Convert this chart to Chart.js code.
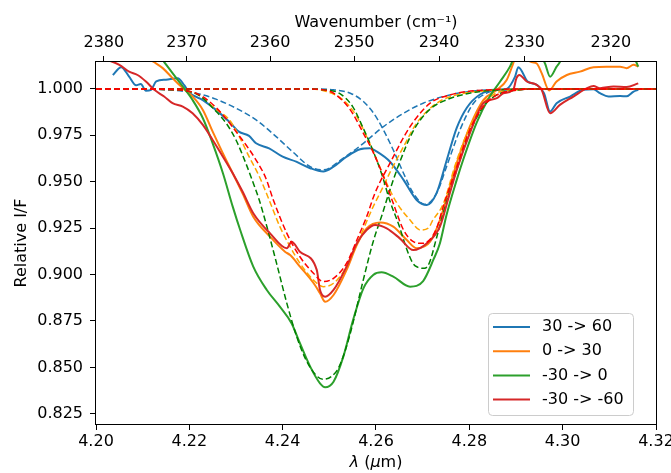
<!DOCTYPE html>
<html>
<head>
<meta charset="utf-8">
<script src="https://cdn.jsdelivr.net/npm/chart.js@4.4.0/dist/chart.umd.min.js"></script>
<style>
  html, body { margin: 0; padding: 0; background: #fff; }
</style>
</head>
<body>
<canvas id="myChart" width="671" height="473"></canvas>
<script>
// tick labels
const lamTicks = [4.20, 4.22, 4.24, 4.26, 4.28, 4.30, 4.32];
const waveTicks = [2380, 2370, 2360, 2350, 2340, 2330, 2320];
const yTicks = [0.825, 0.850, 0.875, 0.900, 0.925, 0.950, 0.975, 1.000];
const seriesLabels = ['30 -> 60', '0 -> 30', '-30 -> 0', '-30 -> -60'];

// observed spectra (solid)
const blueLam = [4.2036,4.2054,4.2071,4.2086,4.2096,4.2107,4.2118,4.2129,4.2150,4.2175,4.2189,4.2200,4.2229,4.2257,4.2285,4.2306,4.2328,4.2343,4.2371,4.2400,4.2429,4.2459,4.2487,4.2509,4.2537,4.2566,4.2587,4.2602,4.2630,4.2659,4.2687,4.2709,4.2730,4.2752,4.2773,4.2795,4.2823,4.2859,4.2880,4.2898,4.2905,4.2925,4.2946,4.2960,4.2973,4.2987,4.3016,4.3044,4.3066,4.3080,4.3098,4.3123,4.3137,4.3152,4.3162];
const blueVal = [1.0075,1.0117,1.0066,1.0020,1.0027,0.9990,0.9995,1.0040,1.0050,1.0058,1.0020,0.9980,0.9940,0.9887,0.9824,0.9770,0.9747,0.9707,0.9680,0.9635,0.9608,0.9573,0.9555,0.9581,0.9635,0.9675,0.9680,0.9662,0.9608,0.9510,0.9402,0.9375,0.9440,0.9620,0.9790,0.9900,0.9970,0.9995,1.0000,1.0066,1.0117,1.0040,1.0020,0.9977,0.9878,0.9923,0.9959,0.9995,0.9998,0.9977,0.9959,0.9962,0.9960,0.9986,0.9995];

const orangeLam = [4.2036,4.2080,4.2124,4.2143,4.2164,4.2186,4.2207,4.2229,4.2250,4.2272,4.2293,4.2314,4.2337,4.2373,4.2405,4.2416,4.2437,4.2469,4.2480,4.2491,4.2509,4.2537,4.2559,4.2580,4.2609,4.2637,4.2666,4.2687,4.2716,4.2737,4.2755,4.2773,4.2801,4.2830,4.2859,4.2880,4.2894,4.2905,4.2920,4.2930,4.2944,4.2955,4.2971,4.2987,4.3009,4.3037,4.3066,4.3094,4.3123,4.3137,4.3152,4.3162];
const orangeVal = [1.035,1.022,1.0145,1.0112,1.0058,1.0004,0.9959,0.9887,0.9770,0.9653,0.9546,0.9438,0.9312,0.9204,0.9123,0.9105,0.9043,0.8944,0.8899,0.8854,0.8890,0.9025,0.9160,0.9249,0.9280,0.9258,0.9186,0.9142,0.9177,0.9294,0.9445,0.9600,0.9797,0.9940,0.9995,1.0048,1.0138,1.022,1.022,1.0148,1.0138,1.0085,0.9992,1.0040,1.0075,1.0093,1.0117,1.0120,1.0120,1.0112,1.0130,1.0120];

const greenLam = [4.2036,4.2100,4.2146,4.2164,4.2186,4.2207,4.2229,4.2250,4.2272,4.2293,4.2309,4.2337,4.2366,4.2394,4.2419,4.2437,4.2459,4.2480,4.2491,4.2509,4.2530,4.2551,4.2573,4.2594,4.2612,4.2637,4.2673,4.2701,4.2723,4.2737,4.2751,4.2773,4.2787,4.2816,4.2844,4.2866,4.2887,4.2905,4.2935,4.2962,4.2973,4.2987,4.2994,4.3010,4.3140,4.3155,4.3162];
const greenVal = [1.045,1.028,1.0145,1.0085,1.0013,0.9940,0.9842,0.9707,0.9546,0.9366,0.9240,0.9043,0.8917,0.8827,0.8738,0.8630,0.8504,0.8414,0.8393,0.8423,0.8558,0.8756,0.8926,0.8998,0.9012,0.8989,0.8935,0.8965,0.9080,0.9169,0.9320,0.9510,0.9620,0.9820,0.9960,1.0040,1.0120,1.022,1.025,1.0138,1.0066,1.0120,1.0145,1.025,1.025,1.016,1.012];

const redLam = [4.2020,4.2050,4.2071,4.2089,4.2107,4.2125,4.2146,4.2164,4.2186,4.2207,4.2229,4.2250,4.2272,4.2293,4.2314,4.2337,4.2373,4.2409,4.2419,4.2437,4.2473,4.2480,4.2491,4.2509,4.2537,4.2559,4.2580,4.2598,4.2623,4.2651,4.2680,4.2709,4.2737,4.2755,4.2773,4.2801,4.2830,4.2859,4.2873,4.2894,4.2901,4.2907,4.2923,4.2944,4.2955,4.2973,4.2994,4.3023,4.3052,4.3066,4.3080,4.3109,4.3137,4.3162];
const redVal = [1.016,1.013,1.0093,1.0075,1.0040,0.9995,0.9959,0.9923,0.9905,0.9869,0.9806,0.9725,0.9635,0.9546,0.9447,0.9330,0.9222,0.9142,0.9177,0.9123,0.9025,0.8917,0.8881,0.8917,0.9043,0.9169,0.9240,0.9267,0.9249,0.9195,0.9132,0.9169,0.9258,0.9410,0.9564,0.9761,0.9923,0.9950,0.9977,0.9995,1.0058,1.0075,1.0040,1.0022,0.9995,0.9869,0.9914,0.9959,1.0004,1.0016,1.0004,1.0013,1.0010,1.0030];

// model bands (dashed), A = 4.25 um band, B = 4.27 um band
const blueALam = [4.2000,4.2120,4.2214,4.2257,4.2300,4.2343,4.2386,4.2421,4.2459,4.2487,4.2530,4.2573,4.2616,4.2659,4.2701,4.2744,4.2787,4.2844,4.2950,4.3200];
const blueAVal = [1.0000,0.9998,0.9977,0.9945,0.9896,0.9833,0.9743,0.9662,0.9581,0.9564,0.9627,0.9707,0.9797,0.9869,0.9923,0.9959,0.9982,0.9995,1.0000,1.0000];
const blueBLam = [4.2000,4.2450,4.2509,4.2545,4.2573,4.2595,4.2616,4.2637,4.2659,4.2680,4.2705,4.2730,4.2751,4.2780,4.2809,4.2837,4.2872,4.2950,4.3200];
const blueBVal = [1.0000,1.0000,0.9995,0.9977,0.9932,0.9869,0.9779,0.9671,0.9546,0.9438,0.9378,0.9438,0.9580,0.9780,0.9923,0.9977,0.9995,1.0000,1.0000];

const orangeALam = [4.2000,4.2150,4.2214,4.2257,4.2286,4.2307,4.2328,4.2350,4.2371,4.2394,4.2416,4.2437,4.2466,4.2487,4.2509,4.2537,4.2566,4.2594,4.2612,4.2630,4.2659,4.2687,4.2730,4.2773,4.2830,4.2950,4.3200];
const orangeAVal = [1.0000,0.9997,0.9975,0.9890,0.9833,0.9743,0.9635,0.9528,0.9402,0.9258,0.9150,0.9061,0.8970,0.8935,0.8953,0.9043,0.9204,0.9366,0.9456,0.9550,0.9689,0.9815,0.9923,0.9968,0.9989,1.0000,1.0000];
const orangeBLam = [4.2000,4.2450,4.2494,4.2530,4.2559,4.2580,4.2602,4.2623,4.2645,4.2673,4.2695,4.2712,4.2722,4.2744,4.2771,4.2800,4.2829,4.2860,4.2900,4.2950,4.3200];
const orangeBVal = [1.0000,1.0000,0.9986,0.9940,0.9851,0.9743,0.9617,0.9492,0.9384,0.9294,0.9240,0.9250,0.9294,0.9380,0.9600,0.9790,0.9920,0.9980,0.9995,1.0000,1.0000];

const greenALam = [4.2000,4.2150,4.2214,4.2257,4.2279,4.2300,4.2321,4.2336,4.2350,4.2366,4.2387,4.2409,4.2430,4.2450,4.2471,4.2486,4.2504,4.2521,4.2543,4.2571,4.2593,4.2614,4.2629,4.2650,4.2679,4.2714,4.2750,4.2800,4.2843,4.2950,4.3200];
const greenAVal = [1.0000,0.9997,0.9975,0.9880,0.9815,0.9725,0.9600,0.9500,0.9400,0.9260,0.9060,0.8845,0.8666,0.8540,0.8459,0.8436,0.8450,0.8504,0.8666,0.8953,0.9169,0.9330,0.9450,0.9600,0.9770,0.9887,0.9940,0.9977,0.9991,1.0000,1.0000];
const greenBLam = [4.2000,4.2450,4.2487,4.2521,4.2550,4.2571,4.2593,4.2614,4.2629,4.2650,4.2664,4.2679,4.2689,4.2704,4.2714,4.2730,4.2744,4.2773,4.2800,4.2830,4.2859,4.2894,4.2950,4.3200];
const greenBVal = [1.0000,1.0000,0.9995,0.9977,0.9905,0.9797,0.9671,0.9528,0.9402,0.9260,0.9150,0.9061,0.9040,0.9034,0.9061,0.9200,0.9330,0.9564,0.9760,0.9905,0.9968,0.9991,1.0000,1.0000];

const redALam = [4.2000,4.2150,4.2214,4.2243,4.2272,4.2300,4.2321,4.2343,4.2364,4.2380,4.2409,4.2437,4.2466,4.2487,4.2509,4.2537,4.2559,4.2580,4.2598,4.2630,4.2673,4.2716,4.2759,4.2816,4.2950,4.3200];
const redAVal = [1.0000,0.9997,0.9977,0.9932,0.9860,0.9770,0.9700,0.9617,0.9519,0.9402,0.9222,0.9096,0.9007,0.8962,0.8980,0.9061,0.9186,0.9312,0.9440,0.9600,0.9797,0.9923,0.9968,0.9991,1.0000,1.0000];
const redBLam = [4.2000,4.2450,4.2487,4.2509,4.2545,4.2573,4.2595,4.2616,4.2637,4.2659,4.2680,4.2698,4.2712,4.2730,4.2744,4.2773,4.2801,4.2830,4.2859,4.2894,4.2950,4.3200];
const redBVal = [1.0000,1.0000,0.9995,0.9977,0.9887,0.9761,0.9653,0.9528,0.9384,0.9240,0.9177,0.9168,0.9180,0.9250,0.9366,0.9580,0.9780,0.9905,0.9968,0.9991,1.0000,1.0000];

const solidColors = ['#1f77b4', '#ff7f0e', '#2ca02c', '#d62728'];
const dashColors = ['#1f77b4', '#ffa500', '#008000', '#ff0000'];

const FONT = "'DejaVu Sans', sans-serif";
Chart.defaults.font.family = FONT;
Chart.defaults.font.size = 16;
Chart.defaults.color = '#000';

function pts(lam, val) {
  const n = Math.min(lam.length, val.length);
  const out = [];
  for (let i = 0; i < n; i++) out.push({x: lam[i], y: val[i]});
  return out;
}

const groups = [
  [blueLam, blueVal, blueALam, blueAVal, blueBLam, blueBVal],
  [orangeLam, orangeVal, orangeALam, orangeAVal, orangeBLam, orangeBVal],
  [greenLam, greenVal, greenALam, greenAVal, greenBLam, greenBVal],
  [redLam, redVal, redALam, redAVal, redBLam, redBVal]
];

var datasets = [];
groups.forEach((g, i) => {
  datasets.push({ label: seriesLabels[i], data: pts(g[0], g[1]), borderColor: solidColors[i], borderWidth: 2 });
  datasets.push({ label: 'A', data: pts(g[2], g[3]), borderColor: dashColors[i], borderWidth: 1.5, borderDash: [6, 3] });
  datasets.push({ label: 'B', data: pts(g[4], g[5]), borderColor: dashColors[i], borderWidth: 1.5, borderDash: [6, 3] });
});
// later datasets on top, like matplotlib
datasets.forEach((d, i) => {
  d.order = 100 - i;
  d.pointRadius = 0;
  d.fill = false;
  d.cubicInterpolationMode = 'monotone';
  d.clip = 0;
});

const tickGrid = { drawOnChartArea: false, drawTicks: true, tickLength: 6, color: '#000', lineWidth: 1 };

const frame = {
  id: 'frame',
  afterDraw(chart) {
    const ctx = chart.ctx, a = chart.chartArea;
    ctx.save();
    ctx.strokeStyle = '#000';
    ctx.lineWidth = 1;
    ctx.strokeRect(Math.round(a.left) - 0.5, Math.round(a.top) - 0.5, Math.round(a.right - a.left) + 1, Math.round(a.bottom - a.top) + 1);

    // legend
    const lx = a.right - 168, ly = a.bottom - 111, lw = 145, lh = 102;
    ctx.beginPath();
    ctx.roundRect(lx + 0.5, ly + 0.5, lw, lh, 4);
    ctx.fillStyle = 'rgba(255,255,255,0.8)';
    ctx.fill();
    ctx.strokeStyle = '#cccccc';
    ctx.stroke();
    ctx.font = '16px ' + FONT;
    ctx.textBaseline = 'middle';
    ctx.textAlign = 'left';
    seriesLabels.forEach((t, i) => {
      const yy = ly + 14 + i * 24.2;
      ctx.strokeStyle = solidColors[i];
      ctx.lineWidth = 2;
      ctx.beginPath();
      ctx.moveTo(lx + 5, yy);
      ctx.lineTo(lx + 42, yy);
      ctx.stroke();
      ctx.fillStyle = '#000';
      ctx.fillText(t, lx + 54, yy);
    });

    // bottom axis title with italic symbols
    const parts = [['λ', true], [' (', false], ['μ', true], ['m)', false]];
    let w = 0;
    parts.forEach(p => { ctx.font = (p[1] ? 'italic ' : '') + '16px ' + FONT; w += ctx.measureText(p[0]).width; });
    let x = (a.left + a.right) / 2 - w / 2;
    parts.forEach(p => {
      ctx.font = (p[1] ? 'italic ' : '') + '16px ' + FONT;
      ctx.fillText(p[0], x, 463);
      x += ctx.measureText(p[0]).width;
    });
    ctx.restore();
  }
};

var chartArea = document.getElementById('myChart').getContext('2d');
var myChart = new Chart(chartArea, {
  type: 'line',
  data: { datasets: datasets },
  options: {
    responsive: false,
    animation: false,
    devicePixelRatio: 1,
    layout: { padding: { left: 0, right: 15, top: 0, bottom: 0 } },
    plugins: { legend: { display: false }, tooltip: { enabled: false } },
    scales: {
      x: {
        type: 'linear', position: 'bottom', min: 4.20, max: 4.32,
        afterBuildTicks: s => { s.ticks = lamTicks.map(v => ({ value: v })); },
        ticks: { callback: v => v.toFixed(2), autoSkip: false, maxRotation: 0, padding: 2 },
        grid: tickGrid,
        border: { display: false },
        afterFit: s => { s.height = 49; s.paddingLeft = 0; s.paddingRight = 0; }
      },
      x2: {
        type: 'linear', position: 'top', min: 4.20, max: 4.32,
        afterBuildTicks: s => { s.ticks = waveTicks.map(w => ({ value: 1e4 / w })); },
        ticks: { callback: v => String(Math.round(1e4 / v)), autoSkip: false, maxRotation: 0, padding: 4 },
        grid: tickGrid,
        border: { display: false },
        title: { display: true, text: 'Wavenumber (cm⁻¹)', padding: { top: 13, bottom: 0 } },
        afterFit: s => { s.height = 62; s.paddingLeft = 0; s.paddingRight = 0; }
      },
      y: {
        type: 'linear', min: 0.8195, max: 1.0145,
        afterBuildTicks: s => { s.ticks = yTicks.map(v => ({ value: v })); },
        ticks: { callback: v => v.toFixed(3), autoSkip: false, padding: 7 },
        grid: tickGrid,
        border: { display: false },
        title: { display: true, text: 'Relative I/F', padding: { top: 12, bottom: 0 } },
        afterFit: s => { s.width = 96; s.paddingTop = 0; s.paddingBottom = 0; }
      }
    }
  },
  plugins: [frame]
});
</script>
</body>
</html>
